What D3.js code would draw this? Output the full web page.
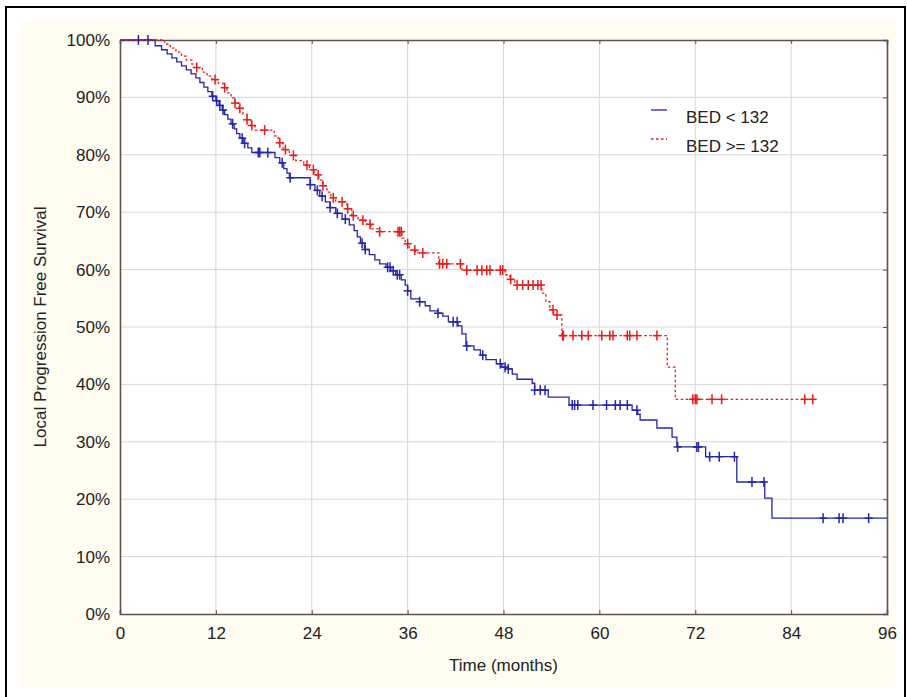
<!DOCTYPE html>
<html>
<head>
<meta charset="utf-8">
<script src="https://cdn.jsdelivr.net/npm/d3@7"></script>
<style>
  body { margin: 0; background: #fff; }
  svg text { font-family: "Liberation Sans", Arial, sans-serif; fill: #222; }
</style>
</head>
<body>
<div id="chart"></div>
<script>
// Kaplan-Meier curves, local progression free survival by BED group

var xTicks = [0, 12, 24, 36, 48, 60, 72, 84, 96];
var yTicks = [0, 10, 20, 30, 40, 50, 60, 70, 80, 90, 100];

var seriesNames = ['BED < 132', 'BED >= 132'];

// BED < 132 : [month, survival %] after each drop
var blueSteps = [
  [4.4, 99.0], [5.2, 98.3], [5.9, 97.6], [6.5, 96.9], [7.1, 96.2], [7.7, 95.5], [8.3, 94.8],
  [8.9, 94.1], [9.5, 93.4], [10.0, 92.6], [10.5, 91.8], [11.0, 91.0], [11.5, 90.2], [12.0, 89.4],
  [12.4, 88.6], [12.8, 87.8], [13.1, 87.0], [13.5, 86.2], [13.9, 85.4], [14.3, 84.5], [14.6, 83.7],
  [15.0, 82.9], [15.5, 82.0], [16.0, 81.2], [16.5, 80.4], [19.4, 79.5], [20.0, 78.6], [20.5, 77.6],
  [20.9, 76.8], [21.2, 76.0], [23.8, 74.8], [24.4, 73.8], [25.0, 72.8], [25.7, 71.8], [26.3, 70.8],
  [27.0, 69.8], [27.8, 68.8], [28.7, 67.8], [29.3, 66.8], [29.7, 65.7], [30.1, 64.6], [30.6, 63.5],
  [31.2, 62.6], [31.9, 61.7], [32.5, 61.0], [33.3, 60.4], [33.9, 59.8], [34.5, 59.1], [35.2, 58.2],
  [35.7, 57.3], [36.0, 56.3], [36.4, 54.9], [37.5, 54.4], [38.2, 53.7], [38.8, 52.8], [39.8, 52.4],
  [40.4, 51.9], [41.1, 50.9], [42.3, 50.2], [42.8, 48.8], [43.3, 46.7], [44.3, 46.0], [45.1, 45.1],
  [45.8, 44.3], [47.1, 43.6], [47.8, 43.0], [48.6, 42.7], [49.1, 41.8], [49.7, 40.9], [51.6, 40.2],
  [51.9, 39.0], [53.6, 37.8], [56.2, 36.4], [64.1, 35.5], [64.8, 34.8], [65.1, 33.8], [67.2, 32.4],
  [69.1, 30.8], [69.7, 29.1], [73.3, 27.4], [77.2, 23.0], [80.7, 20.2], [81.6, 16.7]
];
var blueCensored = [
  2.3, 3.5, 11.6, 12.1, 12.5, 12.9, 14.1, 15.3, 15.6, 17.3, 17.5, 18.5, 20.3, 21.3, 23.8, 24.7,
  25.3, 26.3, 27.2, 28.2, 30.3, 30.7, 33.5, 33.8, 34.2, 34.7, 35.0, 36.0, 37.5, 39.8, 41.7, 42.2,
  43.4, 45.4, 47.6, 48.2, 48.6, 51.9, 52.6, 53.2, 56.6, 56.9, 57.3, 59.2, 60.9, 62.0, 62.6, 63.5,
  64.7, 69.8, 72.2, 72.4, 73.8, 75.0, 76.9, 79.1, 80.6, 88.0, 90.0, 90.5, 93.7
];
var blueEnd = 96;

// BED >= 132
var redSteps = [
  [5.6, 99.3], [6.3, 98.6], [7.0, 97.9], [7.7, 97.2], [8.3, 96.5], [9.0, 95.8], [9.6, 95.2],
  [10.3, 94.4], [10.9, 93.7], [11.5, 93.1], [12.3, 92.5], [12.9, 91.7], [13.4, 90.8], [13.9, 89.9],
  [14.4, 89.0], [14.9, 88.1], [15.4, 87.1], [15.9, 86.1], [16.4, 85.1], [16.9, 84.3], [19.3, 83.3],
  [19.8, 82.1], [20.4, 80.9], [21.2, 79.9], [22.0, 79.0], [23.0, 78.2], [23.7, 77.4], [24.3, 76.5],
  [24.9, 75.6], [25.4, 74.6], [25.9, 73.5], [26.4, 72.5], [27.0, 71.8], [28.4, 70.6], [29.0, 69.4],
  [29.8, 68.6], [30.7, 67.9], [31.4, 67.1], [32.5, 66.6], [35.3, 65.5], [35.7, 64.5], [36.2, 63.4],
  [37.0, 62.9], [39.9, 61.0], [42.8, 59.9], [48.2, 59.1], [48.8, 58.3], [49.4, 57.3], [52.8, 55.9],
  [53.3, 54.4], [53.8, 53.0], [54.3, 52.1], [55.3, 48.5], [68.5, 43.0], [69.5, 37.4]
];
var redCensored = [
  9.6, 11.9, 13.1, 14.4, 15.0, 15.9, 16.5, 18.1, 20.0, 20.7, 21.7, 23.4, 24.2, 24.8, 25.4, 26.7,
  27.8, 28.5, 29.2, 30.4, 31.3, 32.5, 34.8, 35.0, 35.2, 36.0, 36.9, 37.9, 40.0, 40.4, 40.9, 42.6,
  43.4, 44.7, 45.3, 45.9, 46.3, 47.6, 47.9, 48.9, 49.7, 50.4, 51.1, 51.7, 52.3, 52.7, 54.2, 54.7,
  55.4, 55.5, 56.7, 57.8, 58.6, 60.3, 61.3, 61.7, 63.5, 63.8, 64.7, 67.2, 71.7, 72.0, 72.2, 74.1,
  75.3, 85.7, 86.7
];
var redEnd = 87;

var width = 907, height = 697;
var margin = { left: 120, top: 40, right: 20, bottom: 83 };

var svg = d3.select('#chart').append('svg')
  .attr('width', width)
  .attr('height', height);

// outer frame + cream panel
svg.append('rect')
  .attr('x', 6).attr('y', 7).attr('width', 899).attr('height', 700)
  .attr('fill', '#fff').attr('stroke', '#000').attr('stroke-width', 2);
svg.append('rect')
  .attr('x', 19).attr('y', 22).attr('width', 878).attr('height', 665)
  .attr('fill', '#fffcf1');

var x = d3.scaleLinear().domain([0, 96]).range([margin.left, width - margin.right]);
var y = d3.scaleLinear().domain([0, 100]).range([height - margin.bottom, margin.top]);

var plotW = x(96) - x(0), plotH = y(0) - y(100);

svg.append('rect')
  .attr('x', x(0)).attr('y', y(100)).attr('width', plotW).attr('height', plotH)
  .attr('fill', '#fff');

// grid
var grid = svg.append('g');
grid.selectAll('.vg').data(xTicks.slice(1, -1)).enter().append('line')
  .attr('x1', function(d) { return x(d); }).attr('x2', function(d) { return x(d); })
  .attr('y1', y(0)).attr('y2', y(100))
  .attr('stroke', '#d6d6d6').attr('stroke-width', 1);
grid.selectAll('.hg').data(yTicks.slice(1, -1)).enter().append('line')
  .attr('y1', function(d) { return y(d); }).attr('y2', function(d) { return y(d); })
  .attr('x1', x(0)).attr('x2', x(96))
  .attr('stroke', '#d6d6d6').attr('stroke-width', 1);

// axes
var xAxis = svg.append('g')
  .attr('transform', 'translate(0,' + y(0) + ')')
  .call(d3.axisBottom(x).tickValues(xTicks).tickSize(-4).tickPadding(13));
var yAxis = svg.append('g')
  .attr('transform', 'translate(' + x(0) + ',0)')
  .call(d3.axisLeft(y).tickValues(yTicks).tickSize(0).tickPadding(10)
    .tickFormat(function(d) { return d + '%'; }));
var xTop = svg.append('g')
  .attr('transform', 'translate(0,' + y(100) + ')')
  .call(d3.axisTop(x).tickValues(xTicks).tickSize(-4).tickFormat(''));
var yRight = svg.append('g')
  .attr('transform', 'translate(' + x(96) + ',0)')
  .call(d3.axisRight(y).tickValues(yTicks).tickSize(-4).tickFormat(''));

[xAxis, yAxis, xTop, yRight].forEach(function(g) {
  g.select('.domain').attr('stroke', '#555').attr('stroke-width', 1.6);
  g.selectAll('.tick line').attr('stroke', '#555');
  g.selectAll('text').style('font-size', '17px').attr('fill', '#222')
    .style('font-family', '"Liberation Sans", Arial, sans-serif');
});

// step function helpers
function survivalAt(steps, t) {
  var s = 100;
  steps.forEach(function(p) { if (p[0] <= t) s = p[1]; });
  return s;
}
function stepPoints(steps, end) {
  var pts = [[0, 100]].concat(steps);
  pts.push([end, steps[steps.length - 1][1]]);
  return pts;
}

var line = d3.line()
  .x(function(d) { return x(d[0]); })
  .y(function(d) { return y(d[1]); })
  .curve(d3.curveStepAfter);

var series = [
  { name: seriesNames[0], steps: blueSteps, cens: blueCensored, end: blueEnd, color: '#2626a6', dash: null },
  { name: seriesNames[1], steps: redSteps, cens: redCensored, end: redEnd, color: '#e81c1c', dash: '2.5,2.5' }
];

series.forEach(function(s) {
  var g = svg.append('g');
  g.append('path')
    .datum(stepPoints(s.steps, s.end))
    .attr('d', line)
    .attr('fill', 'none')
    .attr('stroke', s.color)
    .attr('stroke-width', 1.3)
    .attr('stroke-dasharray', s.dash);

  var marks = g.selectAll('.cm').data(s.cens).enter().append('g')
    .attr('transform', function(d) {
      return 'translate(' + x(d) + ',' + y(survivalAt(s.steps, d)) + ')';
    });
  marks.append('line').attr('x1', 0).attr('x2', 0).attr('y1', -5).attr('y2', 5)
    .attr('stroke', s.color).attr('stroke-width', 1.5);
  marks.append('line').attr('x1', -4).attr('x2', 4).attr('y1', 0).attr('y2', 0)
    .attr('stroke', s.color).attr('stroke-width', 1.5);
});

// legend
var legend = svg.append('g');
series.forEach(function(s, i) {
  var ly = 110 + i * 29;
  legend.append('line')
    .attr('x1', 651).attr('x2', 667).attr('y1', ly).attr('y2', ly)
    .attr('stroke', s.color).attr('stroke-width', 1.3)
    .attr('stroke-dasharray', s.dash);
  legend.append('text')
    .attr('x', 686).attr('y', ly + 13)
    .style('font-size', '17px')
    .text(s.name);
});

// axis titles
svg.append('text')
  .attr('x', (x(0) + x(96)) / 2).attr('y', 671)
  .attr('text-anchor', 'middle')
  .style('font-size', '17px')
  .text('Time (months)');
svg.append('text')
  .attr('transform', 'translate(46,' + y(50) + ') rotate(-90)')
  .attr('text-anchor', 'middle')
  .style('font-size', '17px')
  .text('Local Progression Free Survival');
</script>
</body>
</html>
